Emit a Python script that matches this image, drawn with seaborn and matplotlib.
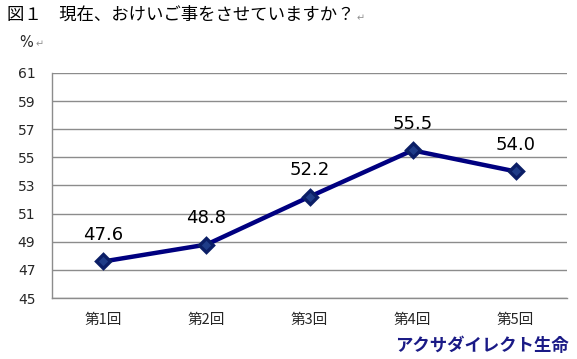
import numpy as np
import pandas as pd
import seaborn as sns
import matplotlib.pyplot as plt
from matplotlib.ticker import FixedLocator

# data
rounds = ['第1回', '第2回', '第3回', '第4回', '第5回']
percent = [47.6, 48.8, 52.2, 55.5, 54.0]
yticks = [45, 47, 49, 51, 53, 55, 57, 59, 61]

df = pd.DataFrame({'round': rounds, 'percent': percent})

sns.set_theme(style='white')
plt.rcParams['font.family'] = ['Noto Sans CJK JP', 'DejaVu Sans']

fig = plt.figure(figsize=(5.77, 3.59), dpi=100)
ax = fig.add_axes([0.0901, 0.1699, 0.8926, 0.6268])

sns.pointplot(data=df, x='round', y='percent', ax=ax, color='#000080',
              markers='D', markersize=7, linewidth=3.2, errorbar=None)
for ln in ax.lines:
    ln.set_markerfacecolor('#1F3C88')
    ln.set_markeredgecolor('#0B1E66')

for i, v in enumerate(percent):
    ax.text(i, v + 1.25, f'{v:.1f}', ha='center', va='bottom',
            fontsize=13, color='black', family=['DejaVu Sans'])

ax.set_ylim(45, 61)
ax.set_xlim(-0.5, 4.5)
ax.set_yticks(yticks)
ax.set_yticklabels([str(t) for t in yticks], fontsize=10, family=['DejaVu Sans'])
ax.tick_params(axis='y', length=0, pad=12)
ax.set_xticks(range(5))
ax.set_xticklabels(rounds, fontsize=10.5)
ax.tick_params(axis='x', length=0, pad=11)
ax.xaxis.set_minor_locator(FixedLocator([0.5, 1.5, 2.5, 3.5, 4.5]))
ax.tick_params(axis='x', which='minor', length=4, color='#808080', width=1, direction='out')
ax.grid(axis='y', color='#8c8c8c', linewidth=1)
ax.set_axisbelow(True)
ax.set_xlabel('')
ax.set_ylabel('')
for s in ['top', 'right']:
    ax.spines[s].set_visible(False)
for s in ['left', 'bottom']:
    ax.spines[s].set_color('#8c8c8c')
    ax.spines[s].set_linewidth(1)

title = fig.text(0.012, 0.958, '図１　現在、おけいご事をさせていますか？', fontsize=12.5,
                 va='center', ha='left', color='black')
pct = fig.text(0.033, 0.882, '%', fontsize=10.5, va='center', ha='left',
               family=['DejaVu Sans'])
fig.text(0.985, 0.035, 'アクサダイレクト生命', fontsize=12.5, fontweight='bold',
         color='#1a1a86', ha='right', va='center')

# paragraph marks right after the title and the % sign
fig.canvas.draw()
r = fig.canvas.get_renderer()
for t, y in [(title, 0.95), (pct, 0.876)]:
    bb = t.get_window_extent(r)
    fig.text(bb.x1 / fig.bbox.width + 0.004, y, '↵', fontsize=7, va='center',
             color='#909090', family=['DejaVu Sans'])

fig.savefig('out.png', dpi=100)
